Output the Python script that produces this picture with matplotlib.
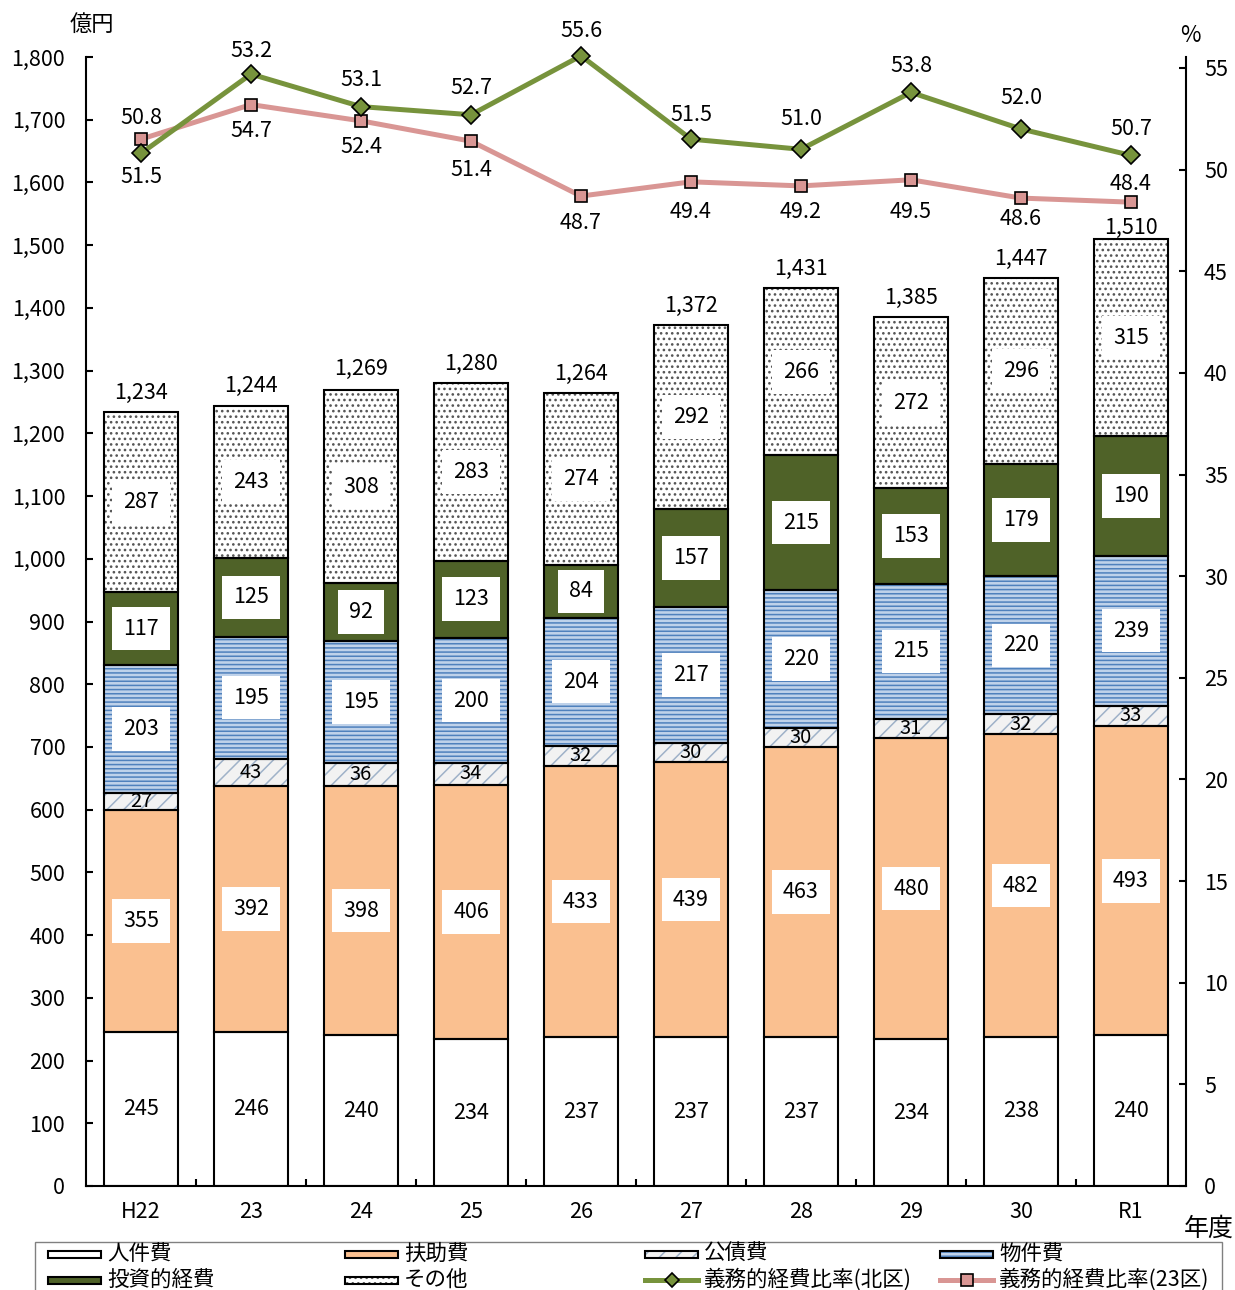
import numpy as np
import matplotlib.pyplot as plt
from matplotlib.patches import Rectangle
from matplotlib.lines import Line2D

plt.rcParams['font.family'] = ['Noto Sans CJK JP', 'DejaVu Sans']
plt.rcParams['hatch.linewidth'] = 1.1

# 歳出の性質別内訳（億円）と義務的経費比率（%）
years = ['H22', '23', '24', '25', '26', '27', '28', '29', '30', 'R1']
jinken = [245, 246, 240, 234, 237, 237, 237, 234, 238, 240]
fujo = [355, 392, 398, 406, 433, 439, 463, 480, 482, 493]
kousai = [27, 43, 36, 34, 32, 30, 30, 31, 32, 33]
bukken = [203, 195, 195, 200, 204, 217, 220, 215, 220, 239]
toushi = [117, 125, 92, 123, 84, 157, 215, 153, 179, 190]
sonota = [287, 243, 308, 283, 274, 292, 266, 272, 296, 315]
ratio_kita = [50.8, 54.7, 53.1, 52.7, 55.6, 51.5, 51.0, 53.8, 52.0, 50.7]
ratio_23ku = [51.5, 53.2, 52.4, 51.4, 48.7, 49.4, 49.2, 49.5, 48.6, 48.4]

# 折れ線ラベルの位置（px、正は下方向）
kita_lbl_off = [-35, 57, -27, -27, -25, -24, -30, -26, -31, -26]
ku23_lbl_off = [38, -54, 26, 29, 27, 30, 26, 32, 21, -18]
total_lbl_off = [19, 20, 21, 19, 19, 19, 19, 19, 19, 11]

FS = 15.5

# (名前, 値, 塗り, ハッチ, ハッチ色, 白枠ラベル, 文字サイズ)
segments = [
    ('人件費', jinken, 'white', None, 'black', False, FS),
    ('扶助費', fujo, '#FAC090', None, 'black', True, FS),
    ('公債費', kousai, '#F2F2F2', '//', '#9FB2C8', False, 14.5),
    ('物件費', bukken, '#BFD2EA', '----', '#4F81BD', True, FS),
    ('投資的経費', toushi, '#4F6228', None, 'black', True, FS),
    ('その他', sonota, 'white', '...', '#555555', True, FS),
]
GREEN = '#77933C'
PINK = '#D99694'

W, H = 1235, 1290
fig = plt.figure(figsize=(W / 100, H / 100), dpi=100)
ax = fig.add_axes([86 / W, 1 - 1186 / H, 1100 / W, 1129 / H])

x = np.arange(len(years))
bw = 0.67
bottom = np.zeros(len(years))
for name, vals, face, hatch, hc, boxed, fs in segments:
    vals = np.array(vals, dtype=float)
    ax.bar(x, vals, bw, bottom=bottom, color=face, hatch=hatch,
           edgecolor=hc, linewidth=0, zorder=2)
    ax.bar(x, vals, bw, bottom=bottom, fill=False, edgecolor='black',
           linewidth=1.5, zorder=3)
    for xi, b, v in zip(x, bottom, vals):
        kw = {}
        if boxed:
            kw['bbox'] = dict(boxstyle='square,pad=0.5', fc='white', ec='none')
        ax.text(xi, b + v / 2, f'{v:.0f}', ha='center', va='center',
                fontsize=fs, zorder=4, **kw)
    bottom += vals

for xi, tot, off in zip(x, bottom, total_lbl_off):
    ax.annotate(f'{tot:,.0f}', (xi, tot), xytext=(0, off * 0.72),
                textcoords='offset points', ha='center', va='center',
                fontsize=FS)

ax.set_xlim(-0.5, len(years) - 0.5)
ax.set_ylim(0, 1800)
ax.set_yticks(np.arange(0, 1801, 100))
ax.set_yticklabels([f'{v:,}' for v in range(0, 1801, 100)])
ax.set_xticks(x)
ax.set_xticklabels(years)
ax.set_xticks(np.arange(0.5, len(years) - 1, 1), minor=True)
ax.tick_params(axis='x', which='major', length=0, pad=11, labelsize=FS)
ax.tick_params(axis='x', which='minor', direction='in', length=5, width=1.5)
ax.tick_params(axis='y', direction='in', length=5, width=1.5, pad=15,
               labelsize=FS)
for s in ['top', 'right']:
    ax.spines[s].set_visible(False)
for s in ['left', 'bottom']:
    ax.spines[s].set_linewidth(1.5)

ax2 = ax.twinx()
ax2.set_ylim(0, 55 * 1129 / 1118)
ax2.set_yticks(np.arange(0, 56, 5))
ax2.tick_params(axis='y', direction='in', length=5, width=1.5, pad=13,
                labelsize=FS)
for s in ['top', 'left', 'bottom']:
    ax2.spines[s].set_visible(False)
ax2.spines['right'].set_linewidth(1.5)

ax2.plot(x, ratio_kita, color=GREEN, lw=3.6, marker='D', ms=9,
         mfc=GREEN, mec='black', mew=1.2, zorder=5, clip_on=False)
ax2.plot(x, ratio_23ku, color=PINK, lw=3.6, marker='s', ms=9,
         mfc=PINK, mec='black', mew=1.2, zorder=4, clip_on=False)
for xi, v, off in zip(x, ratio_kita, kita_lbl_off):
    ax2.annotate(f'{v:.1f}', (xi, v), xytext=(0, -off * 0.72),
                 textcoords='offset points', ha='center', va='center',
                 fontsize=FS, annotation_clip=False)
for xi, v, off in zip(x, ratio_23ku, ku23_lbl_off):
    ax2.annotate(f'{v:.1f}', (xi, v), xytext=(0, -off * 0.72),
                 textcoords='offset points', ha='center', va='center',
                 fontsize=FS, annotation_clip=False)


def fx(px):
    return px / W


def fy(py):
    return 1 - py / H


fig.text(fx(92), fy(24), '億円', ha='center', va='center', fontsize=16)
fig.text(fx(1190), fy(36), '%', ha='center', va='center', fontsize=16)
fig.text(fx(1209), fy(1229), '年度', ha='center', va='center', fontsize=18)

# 凡例（手描き）
fig.patches.append(Rectangle((fx(35), fy(1300)), fx(1222) - fx(35),
                             fy(1242) - fy(1300), transform=fig.transFigure,
                             fill=False, ec='#808080', lw=1))
col_x = [48, 345, 645, 940]
row_y = [1254, 1280]
hw, hh = 53, 7
bar_items = [(0, 0, 0), (0, 1, 1), (0, 2, 2), (0, 3, 3), (1, 0, 4), (1, 1, 5)]
for r, c, i in bar_items:
    name, vals, face, hatch, hc, boxed, fs = segments[i]
    hx, hy = col_x[c], row_y[r]
    rect = Rectangle((fx(hx), fy(hy + hh / 2)), fx(hx + hw) - fx(hx),
                     fy(hy - hh / 2) - fy(hy + hh / 2),
                     transform=fig.transFigure, fc=face, hatch=hatch,
                     ec=hc, lw=0)
    fig.patches.append(rect)
    fig.patches.append(Rectangle((fx(hx), fy(hy + hh / 2)), fx(hx + hw) - fx(hx),
                                 fy(hy - hh / 2) - fy(hy + hh / 2),
                                 transform=fig.transFigure, fill=False,
                                 ec='black', lw=1.5))
    fig.text(fx(hx + hw + 6), fy(hy), name, ha='left', va='center',
             fontsize=FS)

line_items = [(2, '義務的経費比率(北区)', GREEN, 'D', 7),
              (3, '義務的経費比率(23区)', PINK, 's', 8)]
for c, name, col, mk, ms in line_items:
    hx, hy = col_x[c], row_y[1]
    fig.lines.append(Line2D([fx(hx), fx(hx + hw)], [fy(hy), fy(hy)],
                            transform=fig.transFigure, color=col, lw=3.6))
    fig.lines.append(Line2D([fx(hx + hw / 2)], [fy(hy)],
                            transform=fig.transFigure, ls='none', marker=mk,
                            ms=ms, mfc=col, mec='black', mew=1.2))
    fig.text(fx(hx + hw + 6), fy(hy), name, ha='left', va='center',
             fontsize=FS)

fig.savefig('out.png', dpi=100)
